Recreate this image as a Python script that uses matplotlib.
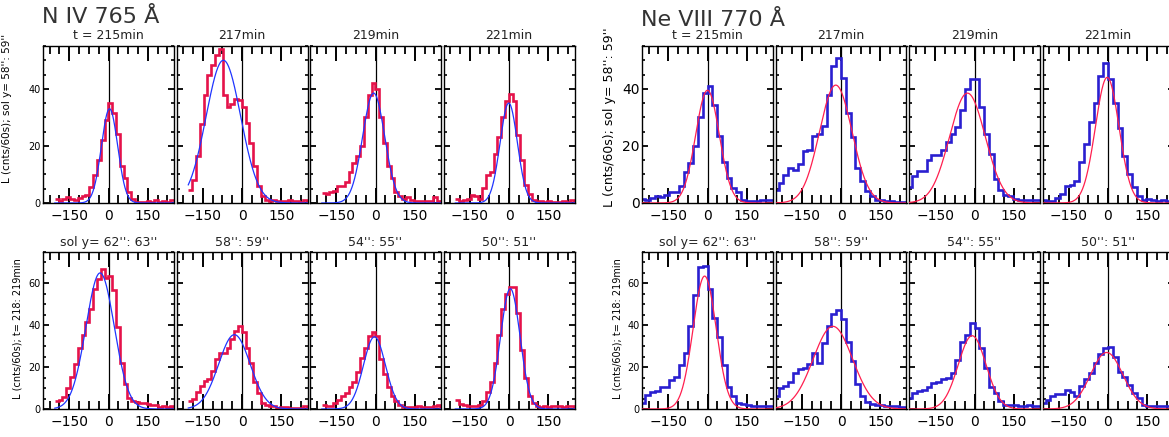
import numpy as np
import matplotlib.pyplot as plt
from matplotlib.ticker import MultipleLocator, FixedLocator

W, H = 1169, 437

plt.rcParams.update({
    'xtick.direction': 'in', 'ytick.direction': 'in',
    'xtick.top': True, 'xtick.bottom': True,
    'ytick.left': True, 'ytick.right': True,
    'xtick.minor.visible': True, 'ytick.minor.visible': True,
    'axes.linewidth': 1.0,
})

# velocity bin edges (km/s)
niv_edges = -205 + 14.6 * np.arange(33)
ne8_edges = -256.2 + 18.3 * np.arange(29)

# N IV 765 histograms, top row (t = 215..221 min), bottom row (sol y = 62..50'')
niv_top = [
    [1.4, 0.8, 1.5, 2.0, 1.3, 1.0, 1.6, 2.4, 2.9, 5.6, 9.8, 15, 22, 29, 35, 31.6,
     24, 13, 8.9, 3.9, 1.4, 0.4, 0.5, 0.4, 0.6, 0.5, 0.9, 0.4, 0.7, 0.5, 1.0, 1.2],
    [4.5, 8, 16.5, 27.5, 38, 45, 48.5, 52, 54, 38, 33.7, 34.7, 36.4, 36, 33.7, 28,
     21, 12.8, 5.8, 2.3, 1.2, 0.8, 0.9, 0.6, 0.8, 0.7, 0.9, 0.6, 0.8, 0.5, 1.0, 0.6],
    [3.5, 3.2, 4.0, 4.3, 6.0, 5.8, 7.5, 10.7, 14, 16.5, 20, 30, 38, 42, 40, 30,
     21, 12.8, 8.7, 4.0, 2.3, 1.5, 2.1, 1.2, 0.8, 0.6, 0.8, 0.6, 0.7, 2.0, 0.7, 0.7],
    [1.4, 0.7, 0.9, 1.5, 2.9, 2.5, 1.3, 5.2, 9.7, 10.9, 17.3, 23, 30, 35.8, 38.1, 35.8,
     23.8, 15, 6.2, 3.0, 0.9, 0.5, 0.6, 0.4, 0.7, 0.4, 0.5, 0.3, 0.8, 0.5, 0.9, 0.6],
]
niv_bot = [
    [3.7, 4.4, 5.5, 9.8, 15.5, 21.3, 29.3, 35.2, 41.5, 48, 57.4, 62.2, 67, 62.5, 63.7, 57,
     39, 22, 11.8, 5.3, 3.9, 3.4, 3.0, 2.8, 2.3, 1.8, 1.8, 1.0, 1.3, 1.0, 1.2, 1.0],
    [3.9, 5, 7.9, 11, 13.4, 14.2, 18.2, 23.7, 26.9, 26.6, 29.3, 33.5, 37.5, 39.5, 37, 29,
     22, 13, 7.5, 3, 2, 1.5, 1.2, 0.6, 1.0, 0.9, 0.5, 0.6, 0.5, 0.4, 1.2, 0.5],
    [1.8, 1.2, 1.6, 3.1, 4.4, 6, 7.5, 10.3, 12.7, 17.7, 24.5, 29.3, 34.8, 36.8, 34.8, 24,
     16.6, 10.3, 6.3, 4, 1.8, 0.9, 0.9, 0.8, 0.9, 1.5, 1.1, 0.9, 0.8, 1.2, 1.8, 0.9],
    [4.4, 2.3, 1.8, 1.5, 1.4, 1.6, 2.0, 3.9, 8.3, 12.9, 22.2, 35.2, 47.6, 55, 58.3, 58.5,
     46, 28.2, 15, 6.3, 3.1, 1.2, 1.0, 1.2, 0.9, 1.6, 1.3, 1.4, 1.0, 1.2, 1.5, 0.8],
]
# gaussian fits: (amplitude, centre, sigma)
niv_fit_top = [(33, 4, 31), (50, -71, 66), (38.5, -7, 42), (35, -1, 33)]
niv_fit_bot = [(65, -32, 54), (35.5, -29, 60), (34.5, -4, 42), (57.5, 5, 37)]

# Ne VIII 770 histograms
ne8_top = [
    [1.5, 1.2, 1.8, 2.3, 2.0, 2.7, 3.7, 3.7, 5.8, 10.8, 14, 20, 30, 38.5,
     41, 34.5, 23.4, 14.3, 8.8, 5.3, 3.7, 1.2, 0.6, 0.6, 0.8, 1.2, 0.9, 1.0],
    [4.4, 7, 9.9, 12.3, 11.5, 13.5, 18.1, 18.7, 23.4, 24, 27, 38, 48, 50.9,
     43.9, 31.6, 23.2, 12.3, 7.6, 4.1, 2.3, 1.2, 1.0, 0.6, 0.8, 0.5, 0.4, 0.3],
    [5.5, 9.4, 11.1, 11.1, 15, 16.7, 16.7, 18.7, 21.3, 24, 26.7, 32.7, 40, 43.5,
     43.3, 33.7, 24, 17, 8.5, 4.7, 2.9, 2.3, 1.4, 1.2, 1.0, 1.2, 1.0, 0.9],
    [1.2, 0.8, 0.8, 1.8, 3.3, 5.8, 6.4, 7.6, 14.3, 20.8, 28.3, 34.9, 44.4, 49.1,
     43.3, 34.9, 26.3, 16.4, 10, 5.6, 2.3, 1.2, 1.4, 1.0, 0.8, 0.9, 0.8, 0.8],
]
ne8_bot = [
    [3.1, 6.8, 7.9, 8.4, 10.3, 10.5, 13.9, 15.5, 21, 26.9, 39.6, 54.4, 67.9, 68.2,
     57.5, 43.3, 34.5, 21, 10.7, 6.3, 2.8, 2.3, 1.7, 1.5, 1.6, 1.2, 1.2, 1.2],
    [6, 10, 11.2, 12.8, 17, 19, 19.8, 21.5, 26.6, 21.8, 31.3, 39.6, 45.6, 47.2,
     43, 32, 23, 12, 6, 3.5, 2.3, 1.7, 1.7, 1.5, 1.2, 1.2, 1.0, 1.0],
    [5.2, 7.5, 8.8, 9.1, 10.7, 12.3, 12.8, 14.2, 14.7, 17.4, 23.4, 32.1, 35.3, 41.2,
     38.5, 29, 19.5, 10.7, 7.5, 3.6, 2.0, 2.0, 1.8, 1.5, 1.6, 1.8, 1.5, 1.3],
    [3.1, 4.4, 6, 7.2, 7.0, 9.1, 8.3, 6.3, 11, 14.2, 17.4, 22, 26.5, 29.3,
     29.4, 25, 17.9, 15.5, 11.5, 7.5, 5.2, 2, 1.5, 1.5, 1.2, 1.2, 1.2, 1.2],
]
ne8_fit_top = [(39.5, 0, 45), (41.3, -20, 62), (38.5, -27, 68), (44, -3, 45)]
ne8_fit_bot = [(63.5, -11, 44), (39.5, -31, 75), (35, -9, 53), (27, -5, 62)]

titles_top = ['t = 215min', '217min', '219min', '221min']
titles_bot = ["sol y= 62'': 63''", "58'': 59''", "54'': 55''", "50'': 51''"]

RED = '#e5124a'
BLUE = '#1f35ff'
DBLUE = '#2a1fd0'
FRED = '#ff1f4f'

fig = plt.figure(figsize=(W / 100, H / 100), dpi=100)

PW, PH = 131, 157
pitch = 133.5


def panel(left, top, vals, edges, fit, hcol, fcol, ymax, x0, ylab, ysize):
    ax = fig.add_axes([left / W, 1 - (top + PH) / H, PW / W, PH / H])
    ax.axvline(0, color='k', lw=0.9, zorder=1)
    ax.stairs(vals, edges, color=hcol, lw=1.9, baseline=None, zorder=2)
    a, c, s = fit
    xf = np.linspace(x0, 250, 400)
    ax.plot(xf, a * np.exp(-0.5 * ((xf - c) / s) ** 2), color=fcol, lw=0.9, zorder=3)
    ax.set_xlim(-250, 250)
    ax.set_ylim(0, ymax)
    ax.xaxis.set_major_locator(FixedLocator([-150, 0, 150]))
    ax.xaxis.set_minor_locator(MultipleLocator(37.5))
    ax.yaxis.set_major_locator(MultipleLocator(20))
    ax.yaxis.set_minor_locator(MultipleLocator(5))
    ax.tick_params(axis='x', which='major', length=11, width=1.4, color='black',
                   labelsize=10, pad=4)
    ax.tick_params(axis='x', which='minor', length=6, width=1.3, color='black')
    ax.tick_params(axis='y', which='major', length=4, width=1.3, color='black',
                   labelsize=ysize, pad=1.5, labelleft=ylab)
    ax.tick_params(axis='y', which='minor', length=2.5, width=1.2, color='black')
    return ax


def block(x_left, top_vals, bot_vals, edges, fit_top, fit_bot, hcol, fcol, x0, ytop_size):
    for i in range(4):
        left = x_left + i * pitch
        panel(left, 46, top_vals[i], edges, fit_top[i], hcol, fcol, 55, x0, i == 0, ytop_size)
        panel(left, 252, bot_vals[i], edges, fit_bot[i], hcol, fcol, 75, x0, i == 0, 7)
        cx = (left + PW / 2) / W
        fig.text(cx, 1 - 39 / H, titles_top[i], ha='center', va='baseline', fontsize=9, color='#222')
        fig.text(cx, 1 - 246 / H, titles_bot[i], ha='center', va='baseline', fontsize=9, color='#222')


block(43, niv_top, niv_bot, niv_edges, niv_fit_top, niv_fit_bot, RED, BLUE, -205, 7)
block(642, ne8_top, ne8_bot, ne8_edges, ne8_fit_top, ne8_fit_bot, DBLUE, FRED, -250, 10)

fig.text(42 / W, 1 - 23 / H, 'N IV 765 Å', fontsize=16, color='#333', va='baseline')
fig.text(641 / W, 1 - 26 / H, 'Ne VIII 770 Å', fontsize=16, color='#333', va='baseline')

fig.text(7 / W, 1 - 108 / H, "L (cnts/60s); sol y= 58'': 59''", rotation=90,
         ha='center', va='center', fontsize=7.5)
fig.text(17.5 / W, 1 - 329 / H, "L (cnts/60s); t= 218: 219min", rotation=90,
         ha='center', va='center', fontsize=7)
fig.text(609 / W, 1 - 117 / H, "L (cnts/60s); sol y= 58'': 59''", rotation=90,
         ha='center', va='center', fontsize=9)
fig.text(617.5 / W, 1 - 329 / H, "L (cnts/60s); t= 218: 219min", rotation=90,
         ha='center', va='center', fontsize=7)

fig.savefig('out.png', dpi=100)
